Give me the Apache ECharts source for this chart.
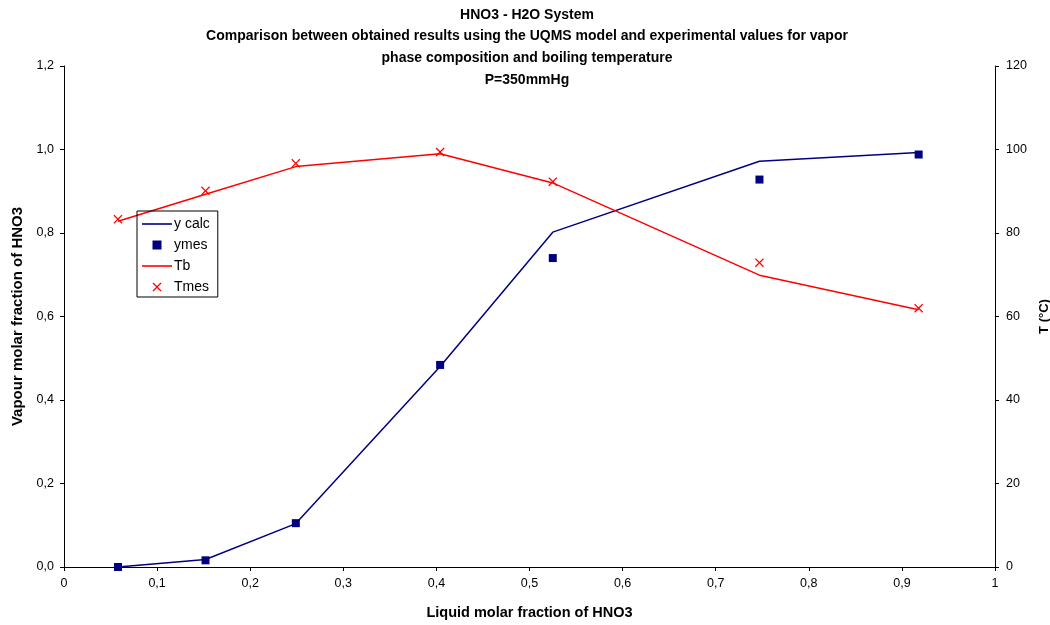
<!DOCTYPE html>
<html>
<head>
<meta charset="utf-8">
<script src="https://cdn.jsdelivr.net/npm/echarts@6/dist/echarts.min.js"></script>
<style>
  html, body { margin: 0; padding: 0; background: #fff; }
  #main { width: 1050px; height: 625px; }
</style>
</head>
<body>
<div id="main"></div>
<script>
// liquid molar fraction of HNO3 (x)
var xLiquid = [0.058, 0.152, 0.249, 0.404, 0.525, 0.747, 0.918];
// vapour fraction, model and measured
var yCalc = [0.0, 0.018, 0.104, 0.48, 0.802, 0.972, 0.993];
var yMes = [0.0, 0.016, 0.105, 0.484, 0.740, 0.928, 0.988];
// boiling temperature, model and measured (°C)
var tCalc = [82.8, 89.3, 95.9, 99.0, 92.0, 69.9, 61.6];
var tMes = [83.3, 90.1, 96.7, 99.4, 92.3, 72.9, 62.0];

var seriesNames = ['y calc', 'ymes', 'Tb', 'Tmes'];

function pairs(xs, ys) {
  var out = [];
  for (var i = 0; i < xs.length; i++) {
    out.push([xs[i], ys[i]]);
  }
  return out;
}

function draw_chart() {
  var dom = document.getElementById('main');
  var myChart = echarts.init(dom, null, {
    renderer: 'canvas',
    useDirtyRect: false
  });

  var navy = '#000080';
  var red = '#ff0000';
  var font = 'Liberation Sans, Arial, sans-serif';
  var crossPath = 'path://M0,1L1,0L5,4L9,0L10,1L6,5L10,9L9,10L5,6L1,10L0,9L4,5Z';
  var linePath = 'path://M0,0L30,0L30,1.6L0,1.6Z';
  var squarePath = 'path://M0,0L8,0L8,8L0,8Z';

  var axisCommon = {
    axisLine: { show: true, lineStyle: { color: '#000', width: 1 } },
    axisTick: { show: true, inside: false, length: 4, lineStyle: { color: '#000' } },
    splitLine: { show: false }
  };

  function nameStyle(size) {
    return { fontFamily: font, fontSize: size, fontWeight: 'bold', color: '#000' };
  }

  var option = {
    backgroundColor: '#fff',
    animation: false,
    title: {
      text: 'HNO3 - H2O System\nComparison between obtained results using the UQMS model and experimental values for vapor\nphase composition and boiling temperature\nP=350mmHg',
      left: 522,
      textAlign: 'center',
      top: -1,
      textStyle: {
        fontFamily: font,
        fontSize: 14,
        fontWeight: 'bold',
        color: '#000',
        lineHeight: 21.7
      }
    },
    legend: {
      orient: 'vertical',
      left: 137,
      top: 211,
      data: [
        { name: seriesNames[0], icon: linePath },
        { name: seriesNames[1], icon: squarePath },
        { name: seriesNames[2], icon: linePath },
        { name: seriesNames[3], icon: crossPath }
      ],
      itemWidth: 30,
      itemHeight: 9,
      itemGap: 7,
      padding: [6, 8, 3, 5],
      borderColor: '#000',
      borderWidth: 1,
      textStyle: { fontFamily: font, fontSize: 14, color: '#000', padding: [0, 0, 0, -3] }
    },
    grid: {
      left: 64,
      right: 55,
      top: 66,
      bottom: 58,
      containLabel: false,
      outerBoundsMode: 'none'
    },
    xAxis: Object.assign({}, axisCommon, {
      type: 'value',
      min: 0,
      max: 1,
      interval: 0.1,
      name: 'Liquid molar fraction of HNO3',
      nameLocation: 'middle',
      nameGap: 38,
      nameTextStyle: nameStyle(14.5),
      axisLabel: {
        margin: 10,
        fontFamily: font,
        fontSize: 12.5,
        color: '#000',
        formatter: function (v) {
          return String(+v.toFixed(1)).replace('.', ',');
        }
      }
    }),
    yAxis: [
      Object.assign({}, axisCommon, {
        type: 'value',
        position: 'left',
        min: 0,
        max: 1.2,
        interval: 0.2,
        name: 'Vapour molar fraction of HNO3',
        nameLocation: 'middle',
        nameRotate: 90,
        nameGap: 39,
        nameTextStyle: nameStyle(15),
        axisLabel: {
          margin: 10,
          fontFamily: font,
          fontSize: 12.5,
          color: '#000',
          formatter: function (v) {
            return v.toFixed(1).replace('.', ',');
          }
        }
      }),
      Object.assign({}, axisCommon, {
        type: 'value',
        position: 'right',
        min: 0,
        max: 120,
        interval: 20,
        name: 'T (°C)',
        nameLocation: 'middle',
        nameRotate: 90,
        nameGap: 38,
        nameTextStyle: nameStyle(13),
        axisLabel: {
          margin: 11,
          fontFamily: font,
          fontSize: 12.5,
          color: '#000'
        }
      })
    ],
    series: [
      {
        name: seriesNames[0],
        type: 'line',
        yAxisIndex: 0,
        symbol: 'none',
        data: pairs(xLiquid, yCalc),
        lineStyle: { color: navy, width: 1.5 },
        itemStyle: { color: navy },
        z: 2
      },
      {
        name: seriesNames[1],
        type: 'scatter',
        yAxisIndex: 0,
        symbol: 'rect',
        symbolSize: 8,
        data: pairs(xLiquid, yMes),
        itemStyle: { color: navy, opacity: 1 },
        z: 3
      },
      {
        name: seriesNames[2],
        type: 'line',
        yAxisIndex: 1,
        symbol: 'none',
        data: pairs(xLiquid, tCalc),
        lineStyle: { color: red, width: 1.5 },
        itemStyle: { color: red },
        z: 2
      },
      {
        name: seriesNames[3],
        type: 'scatter',
        yAxisIndex: 1,
        symbol: crossPath,
        symbolSize: 9,
        data: pairs(xLiquid, tMes),
        itemStyle: { color: red, opacity: 1 },
        z: 3
      }
    ]
  };

  if (option && typeof option === 'object') {
    myChart.setOption(option);
  }

  window.addEventListener('resize', myChart.resize);
}

draw_chart();
</script>
</body>
</html>
